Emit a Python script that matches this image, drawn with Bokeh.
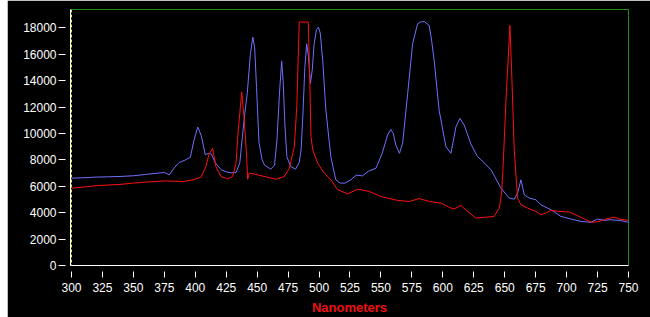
from bokeh.plotting import figure
from bokeh.models import Range1d, FixedTicker, Span, Spacer
from bokeh.layouts import row
from bokeh.embed import file_html
from bokeh.resources import INLINE

# ---- data ----
x_ticks = [300, 325, 350, 375, 400, 425, 450, 475, 500, 525, 550, 575, 600,
           625, 650, 675, 700, 725, 750]
y_ticks = [0, 2000, 4000, 6000, 8000, 10000, 12000, 14000, 16000, 18000]

wl_blue = [300, 310, 320, 330, 340, 350, 360, 370, 375, 379, 383, 387, 392, 396,
           399, 402, 405, 408, 411, 413, 416, 421, 425, 429, 433, 436, 438, 440,
           442, 444.5, 446.5, 448, 449.5, 451.5, 454, 456, 461, 464, 466, 468,
           469.8, 471, 472.5, 474, 477, 481, 484, 485.5, 487, 488.5, 490, 491.5,
           493, 494.5, 496, 498, 499.5, 501, 503, 505.5, 509.5, 513.5, 517, 521,
           525.8, 530, 535, 540, 546, 551, 555.4, 558, 560, 562, 565, 567.5, 571.6,
           575.6, 579.6, 582, 585, 589, 591, 593, 597, 602.5, 606.5, 610.6, 613.8,
           617.3, 622.7, 628, 631, 639, 647, 653.6, 657.7, 660.4, 663.1, 665.8,
           669.8, 675.2, 679.2, 687.3, 695.4, 703.5, 711.6, 719.6, 725, 730.4,
           735.8, 743.9, 750]
blue = [6620, 6650, 6700, 6720, 6750, 6800, 6900, 7000, 7050, 6870, 7400, 7800,
        8000, 8200, 9500, 10500, 9800, 8400, 8500, 8450, 7800, 7250, 7100, 7020,
        7050, 7800, 9700, 11500, 13050, 16000, 17300, 16500, 13500, 9300, 8000,
        7600, 7300, 7600, 9500, 13000, 15500, 14000, 10500, 8250, 7500, 7300,
        7800, 8750, 11500, 15000, 16800, 15800, 13800, 14800, 16800, 17900, 18050,
        17600, 15500, 11800, 8250, 6500, 6250, 6240, 6500, 6850, 6790, 7150, 7370,
        8500, 9890, 10300, 10000, 9130, 8500, 9260, 13030, 16810, 18320, 18450,
        18490, 18190, 17000, 15550, 11770, 9000, 8500, 10510, 11150, 10640, 9200,
        8250, 8000, 7245, 5860, 5110, 5030, 5490, 6490, 5360, 5110, 4980, 4600,
        4230, 3720, 3520, 3340, 3270, 3520, 3420, 3470, 3400, 3270]

wl_red = [300, 310, 320, 330, 340, 349, 360, 376, 390, 398, 404.6, 408.6, 411,
          414, 416.7, 420.8, 426.2, 430.2, 432.9, 434.5, 435.5, 437.5, 439.6,
          441.5, 442.3, 443.6, 450.4, 458.5, 465.2, 471.9, 476, 480, 482, 484,
          491.3, 492.5, 493.5, 494.9, 498.9, 504.2, 509.6, 515, 523.1, 531.2,
          540.6, 550, 563.5, 572.9, 580.9, 589, 598.5, 605.2, 609.2, 614.6, 620,
          626.7, 636.2, 641.5, 645.6, 647.5, 648.8, 651, 654.2, 655.5, 657.7,
          660.4, 663.1, 668.5, 675.2, 679.2, 683.3, 687.3, 694, 702.1, 708.9,
          715.6, 721, 726.3, 731.7, 738.5, 742.5, 750]
red = [5860, 5950, 6050, 6100, 6150, 6240, 6320, 6410, 6360, 6490, 6690, 7490,
       8400, 8880, 7490, 6740, 6570, 6740, 7750, 10000, 11020, 13150, 11020, 8250,
       6540, 7000, 6870, 6690, 6540, 6740, 7370, 9000, 12000, 18450, 18450, 14000,
       9760, 8750, 7750, 7000, 6490, 5740, 5430, 5790, 5610, 5230, 4930, 4850,
       5080, 4850, 4730, 4400, 4280, 4550, 4100, 3600, 3670, 3720, 4350, 5490,
       7750, 12500, 18190, 15000, 8750, 5110, 4600, 4350, 4100, 3850, 3980, 4170,
       4100, 4050, 3770, 3470, 3270, 3340, 3520, 3670, 3520, 3420]

# ---- figure ----
p = figure(width=643, height=317, output_backend="svg", toolbar_location=None,
           x_range=Range1d(299.2, 750), y_range=Range1d(0, 19400),
           min_border_left=63, min_border_right=22, min_border_top=9,
           min_border_bottom=51)
p.background_fill_color = "black"
p.border_fill_color = "black"
p.outline_line_color = "#189018"
p.outline_line_width = 1
p.grid.visible = False

p.line(wl_blue, blue, line_color="#7070ff", line_width=1)
p.line(wl_red, red, line_color="#ff1010", line_width=1)

p.add_layout(Span(location=300, dimension="height", line_color="#e6e650",
                  line_width=1, line_dash="3 2"))

font = "Liberation Sans"
for ax in (p.xaxis[0], p.yaxis[0]):
    ax.axis_line_color = "white"
    ax.major_tick_line_color = "white"
    ax.minor_tick_line_color = None
    ax.major_label_text_color = "white"
    ax.major_label_text_font = font
    ax.major_label_text_font_size = "12px"
    ax.major_tick_out = 12

p.xaxis.ticker = FixedTicker(ticks=x_ticks)
p.yaxis.ticker = FixedTicker(ticks=y_ticks)
p.xaxis.major_tick_in = -6
p.yaxis.major_tick_in = -5
p.xaxis.major_label_standoff = 5
p.yaxis.major_label_standoff = 2

p.xaxis.axis_label = "Nanometers"
p.xaxis.axis_label_text_color = "#ee1010"
p.xaxis.axis_label_text_font = font
p.xaxis.axis_label_text_font_style = "bold"
p.xaxis.axis_label_text_font_size = "13px"
p.xaxis.axis_label_standoff = 5

layout = row(Spacer(width=7, height=317), p)

open("out.html", "w").write(file_html(layout, INLINE))
